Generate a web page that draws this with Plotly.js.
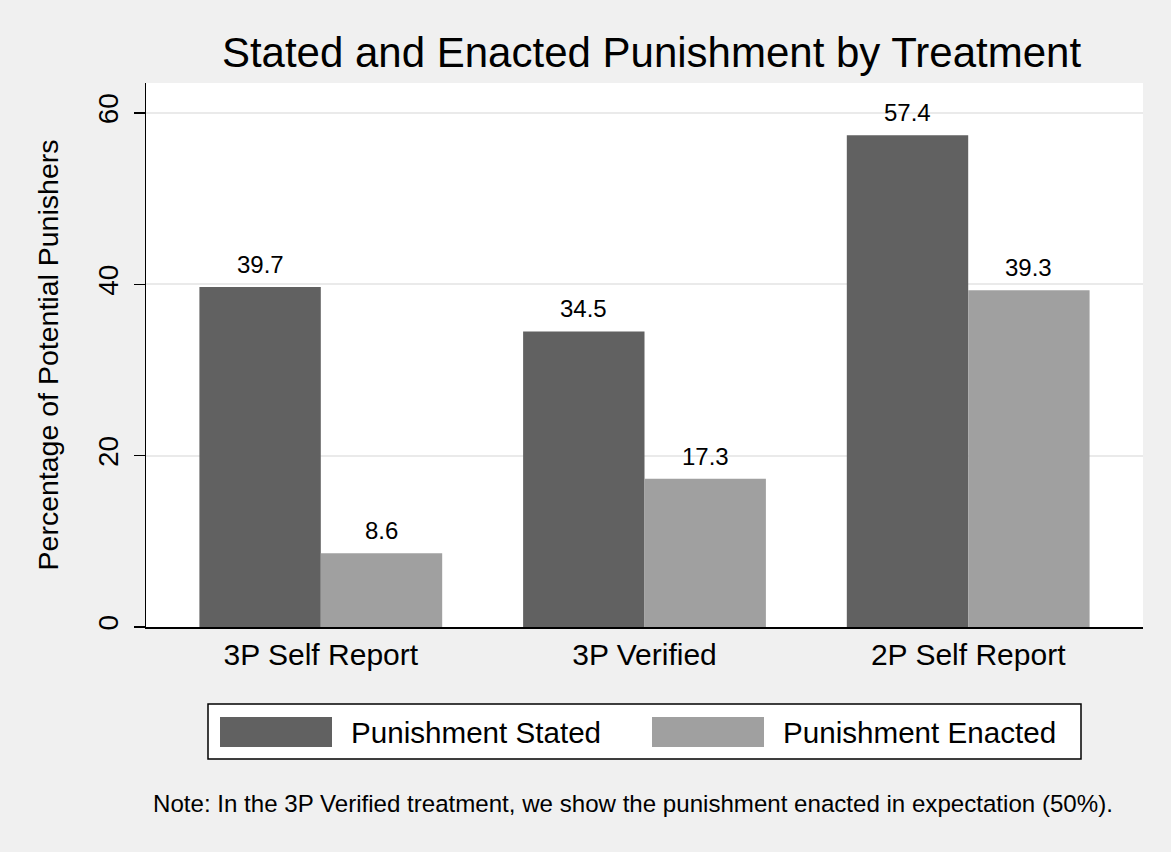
<!DOCTYPE html>
<html>
<head>
<meta charset="utf-8">
<script src="https://cdn.plot.ly/plotly-3.0.1.min.js"></script>
<style>
  html, body { margin: 0; padding: 0; background: #f0f0f0; }
  #chart { width: 1171px; height: 852px; }
</style>
</head>
<body>
<div id="chart"></div>
<script>
// ---- data ----
const categories = ["3P Self Report", "3P Verified", "2P Self Report"];
const seriesNames = ["Punishment Stated", "Punishment Enacted"];
const stated = [39.7, 34.5, 57.4];
const enacted = [8.6, 17.3, 39.3];
const yTicks = [0, 20, 40, 60];
const titleText = "Stated and Enacted Punishment by Treatment";
const yTitleText = "Percentage of Potential Punishers";
const noteText = "Note: In the 3P Verified treatment, we show the punishment enacted in expectation (50%).";

// ---- style ----
const FONT = "Liberation Sans, Arial, Helvetica, sans-serif";
const colors = ["#616161", "#a0a0a0"];
const W = 1171, H = 852;
const M = { l: 146, r: 28, t: 83, b: 225 };
const plotW = W - M.l - M.r, plotH = H - M.t - M.b;
const px = x => (x - M.l) / plotW;           // pixel x -> paper x
const py = y => (H - M.b - y) / plotH;        // pixel y -> paper y

const xIdx = categories.map((_, i) => i);
const bargap = 0.25;
const barW = (1 - bargap) / 2;

const traces = [stated, enacted].map((vals, s) => ({
  type: "bar",
  x: xIdx,
  y: vals,
  name: seriesNames[s],
  marker: { color: colors[s], line: { width: 0 } },
  hoverinfo: "skip",
  showlegend: false
}));

const annotations = [];
[stated, enacted].forEach((vals, s) => {
  vals.forEach((v, i) => {
    annotations.push({
      x: i + (s === 0 ? -barW / 2 : barW / 2),
      y: v, xref: "x", yref: "y",
      text: v.toFixed(1),
      showarrow: false,
      yanchor: "bottom",
      yshift: 7,
      font: { family: FONT, size: 24, color: "#000" }
    });
  });
});

// legend (drawn as a Stata-style boxed legend)
const shapes = [
  { type: "rect", xref: "paper", yref: "paper",
    x0: px(208), x1: px(1081), y0: py(759), y1: py(704),
    fillcolor: "#ffffff", line: { color: "#000", width: 1.5 } }
];
const swatchX = [220, 652], textX = [349, 781];
seriesNames.forEach((nm, s) => {
  shapes.push({ type: "rect", xref: "paper", yref: "paper",
    x0: px(swatchX[s]), x1: px(swatchX[s] + 112), y0: py(747), y1: py(717),
    fillcolor: colors[s], line: { width: 0 } });
  annotations.push({ xref: "paper", yref: "paper", x: px(textX[s]), y: py(732),
    xanchor: "left", yanchor: "middle", text: nm, showarrow: false,
    font: { family: FONT, size: 29.6, color: "#000" } });
});

annotations.push({ xref: "paper", yref: "paper", x: px(632.5), y: py(803),
  xanchor: "center", yanchor: "middle", text: noteText, showarrow: false,
  font: { family: FONT, size: 24.1, color: "#000" } });

const layout = {
  width: W, height: H,
  margin: M,
  paper_bgcolor: "#f0f0f0",
  plot_bgcolor: "#ffffff",
  barmode: "group",
  bargap: bargap,
  bargroupgap: 0,
  title: {
    text: titleText,
    font: { family: FONT, size: 42, color: "#000" },
    x: px(651.5), xref: "paper", xanchor: "center",
    y: 1 - 52 / H, yref: "container", yanchor: "middle"
  },
  xaxis: {
    range: [-0.54, 2.54],
    tickmode: "array", tickvals: xIdx, ticktext: categories,
    ticks: "", showgrid: false, zeroline: false,
    showline: true, linecolor: "#000", linewidth: 1.5,
    tickfont: { family: FONT, size: 30, color: "#000" },
    fixedrange: true
  },
  yaxis: {
    range: [0, 63.5],
    tickmode: "array", tickvals: yTicks, ticktext: yTicks.map(String),
    tickangle: -90,
    ticks: "outside", ticklen: 11, tickwidth: 1.5, tickcolor: "#000",
    ticklabelstandoff: 4,
    showgrid: true, gridcolor: "#eaeaea", gridwidth: 2,
    zeroline: false,
    showline: true, linecolor: "#000", linewidth: 1.5,
    tickfont: { family: FONT, size: 28, color: "#000" },
    title: { text: yTitleText, font: { family: FONT, size: 28.5, color: "#000" }, standoff: 26 },
    fixedrange: true
  },
  showlegend: false,
  shapes: shapes,
  annotations: annotations
};

Plotly.newPlot("chart", traces, layout, { staticPlot: true, displayModeBar: false });
</script>
</body>
</html>
